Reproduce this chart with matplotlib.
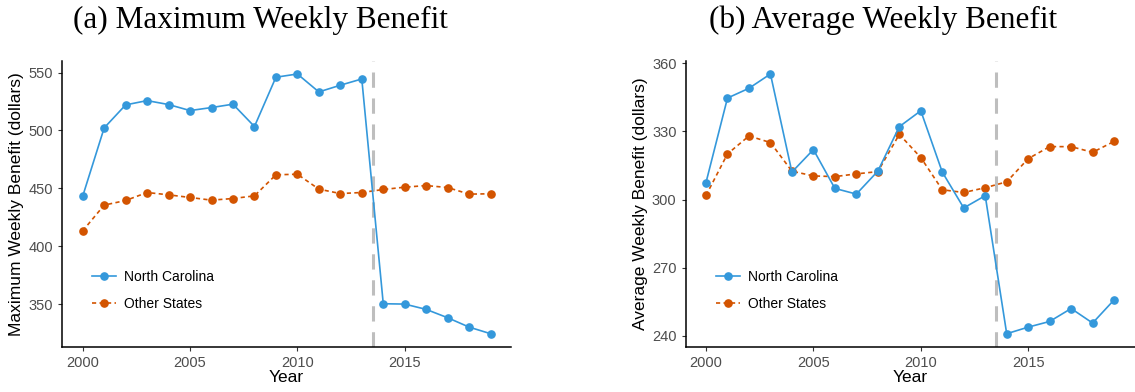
import numpy as np
import matplotlib
matplotlib.use('Agg')
import matplotlib.pyplot as plt

years = list(range(2000, 2020))

# (a) maximum weekly benefit, dollars
max_nc = [443.2, 502.2, 522.1, 525.8, 522.4, 517.2, 519.8, 522.7, 503.4, 546.0,
          548.8, 533.3, 539.1, 544.5, 350.3, 350.0, 345.4, 338.2, 330.1, 324.4]
max_other = [413.3, 435.5, 439.5, 446.4, 444.4, 442.1, 439.8, 441.2, 443.5, 461.7,
             462.2, 449.3, 445.5, 446.4, 449.0, 451.0, 452.4, 450.7, 445.0, 445.3]

# (b) average weekly benefit, dollars
avg_nc = [307.5, 344.7, 349.0, 355.3, 312.1, 322.0, 304.9, 302.4, 312.5, 332.1,
          339.1, 312.1, 296.3, 301.7, 240.9, 243.8, 246.3, 252.0, 245.6, 255.8]
avg_other = [301.8, 320.1, 328.0, 325.1, 312.5, 310.4, 310.1, 311.3, 312.3, 328.7,
             318.5, 304.3, 303.1, 305.2, 307.8, 318.0, 323.3, 323.3, 320.8, 325.6]

cutoff = 2013.5
titles = ['(a) Maximum Weekly Benefit', '(b) Average Weekly Benefit']
ylabels = ['Maximum Weekly Benefit (dollars)', 'Average Weekly Benefit (dollars)']
yticks = [[350, 400, 450, 500, 550], [240, 270, 300, 330, 360]]
xticks = [2000, 2005, 2010, 2015]

BLUE = '#3498DB'
ORANGE = '#D35400'

plt.rcParams['font.family'] = ['Liberation Sans', 'DejaVu Sans']

W, H = 1135, 392
fig = plt.figure(figsize=(W / 100, H / 100), dpi=100)

# axes boxes in pixels: left, right, top, bottom
boxes = [(62.3, 511.0, 61.0, 346.7), (685.6, 1134.5, 61.0, 346.7)]
title_x = [260, 883]
legend_x = [85, 709]

data = [(max_nc, max_other), (avg_nc, avg_other)]

for i in range(2):
    l, r, t, b = boxes[i]
    ax = fig.add_axes([l / W, 1 - b / H, (r - l) / W, (b - t) / H])
    nc, other = data[i]

    ax.axvline(cutoff, color='#BEBEBE', lw=2.2, dashes=(5, 3.5), zorder=1)
    ax.plot(years, nc, color=BLUE, lw=1.2, marker='o', ms=5.2,
            label='North Carolina', zorder=3)
    ax.plot(years, other, color=ORANGE, lw=1.2, marker='o', ms=5.2,
            dashes=(2.5, 2), label='Other States', zorder=2)

    # ggplot-style 5% expansion
    allv = nc + other
    lo, hi = min(allv), max(allv)
    pad = (hi - lo) * 0.05
    ax.set_ylim(lo - pad, hi + pad)
    ax.set_xlim(2000 - 0.95, 2019 + 0.95)

    ax.set_xticks(xticks)
    ax.set_yticks(yticks[i])
    ax.tick_params(colors='#4D4D4D', labelsize=10.5, length=3, width=0.8)
    ax.tick_params(axis='both', color='#333333')
    for s in ['top', 'right']:
        ax.spines[s].set_visible(False)
    for s in ['left', 'bottom']:
        ax.spines[s].set_linewidth(1.1)
        ax.spines[s].set_color('black')

    ax.set_xlabel('Year', fontsize=12.5, labelpad=0)
    ax.set_ylabel(ylabels[i], fontsize=12.5, labelpad=3)

    ax.legend(loc='center left', frameon=False, fontsize=10,
              bbox_to_anchor=((legend_x[i] - 5.6) / W, 1 - 290.5 / H),
              bbox_transform=fig.transFigure, handlelength=1.7,
              handletextpad=0.6, labelspacing=0.95, borderpad=0.4)

    fig.text(title_x[i] / W, 1 - 20 / H, titles[i], ha='center', va='center',
             fontsize=22.5, family=['Liberation Serif', 'DejaVu Serif'])

fig.savefig('out.png', dpi=100)
